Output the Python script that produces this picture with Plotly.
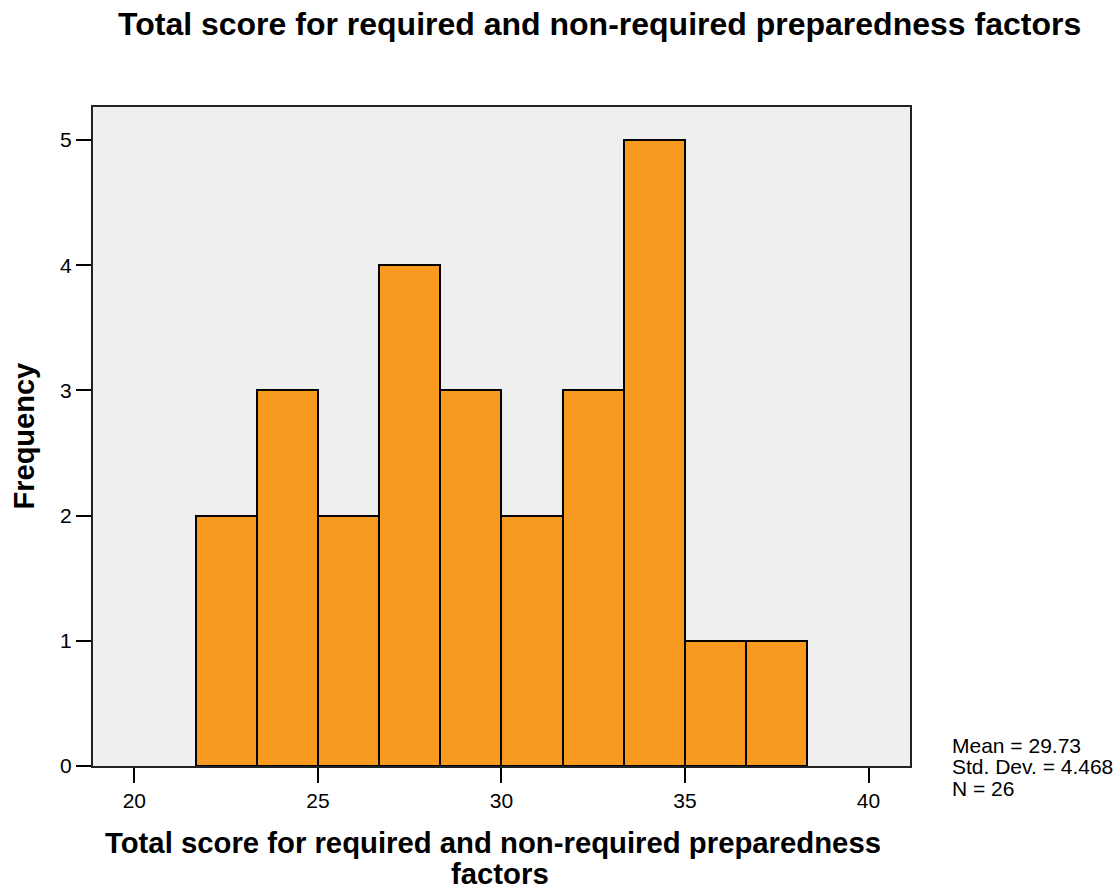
import plotly.graph_objects as go

# Histogram of total preparedness scores (bins of width 5/3)
bin_edges = [21.667, 23.333, 25.0, 26.667, 28.333, 30.0, 31.667, 33.333, 35.0, 36.667, 38.333]
counts = [2, 3, 2, 4, 3, 2, 3, 5, 1, 1]
x_ticks = [20, 25, 30, 35, 40]
y_ticks = [0, 1, 2, 3, 4, 5]
stats_lines = ["Mean = 29.73", "Std. Dev. = 4.468", "N = 26"]

title_text = "Total score for required and non-required preparedness factors"
xtitle_lines = ["Total score for required and non-required preparedness", "factors"]
ytitle_text = "Frequency"

centers = [(a + b) / 2 for a, b in zip(bin_edges[:-1], bin_edges[1:])]
widths = [b - a for a, b in zip(bin_edges[:-1], bin_edges[1:])]

FONT = "Liberation Sans, Arial, sans-serif"

fig = go.Figure()
fig.add_trace(go.Bar(
    x=centers, y=counts, width=widths,
    marker=dict(color="#F89A1F", line=dict(color="black", width=2)),
    hoverinfo="x+y",
))

W, H = 1119, 890
L, R, T, B = 93, 209, 107, 124
plot_w, plot_h = W - L - R, H - T - B


def py(px_y):
    return (H - B - px_y) / plot_h


def px(px_x):
    return (px_x - L) / plot_w


annotations = []
annotations.append(dict(text=f"<b>{title_text}</b>", xref="paper", yref="paper",
                        x=px(599), y=py(24), xanchor="center", yanchor="middle",
                        showarrow=False, font=dict(size=32, color="black", family=FONT)))
for line, xx, yy in zip(xtitle_lines, [493, 500], [842, 873]):
    annotations.append(dict(text=f"<b>{line}</b>", xref="paper", yref="paper",
                            x=px(xx), y=py(yy), xanchor="center", yanchor="middle",
                            showarrow=False, font=dict(size=29.3, color="black", family=FONT)))
annotations.append(dict(text=f"<b>{ytitle_text}</b>", xref="paper", yref="paper",
                        x=px(23), y=0.5, xanchor="center", yanchor="middle", textangle=-90,
                        showarrow=False, font=dict(size=29, color="black", family=FONT)))
for line, yy in zip(stats_lines, [745, 766.5, 788]):
    annotations.append(dict(text=line, xref="paper", yref="paper",
                            x=px(950), y=py(yy), xanchor="left", yanchor="middle",
                            showarrow=False, font=dict(size=21, color="black", family=FONT)))

fig.update_layout(
    width=W, height=H,
    margin=dict(l=L, r=R, t=T, b=B, pad=0),
    paper_bgcolor="white",
    plot_bgcolor="#EFEFEF",
    showlegend=False,
    bargap=0,
    font=dict(family=FONT, size=21, color="black"),
    annotations=annotations,
)
fig.update_xaxes(
    range=[18.874, 41.13], tickvals=x_ticks, ticktext=[str(v) for v in x_ticks],
    ticks="outside", ticklen=15, tickwidth=2, tickcolor="black",
    showline=True, linecolor="#222222", linewidth=2, mirror=True,
    showgrid=False, zeroline=False, tickfont=dict(size=21),
)
fig.update_yaxes(
    range=[0, 5.264], tickvals=y_ticks, ticktext=[str(v) for v in y_ticks],
    ticks="outside", ticklen=15, tickwidth=2, tickcolor="black",
    showline=True, linecolor="#222222", linewidth=2, mirror=True,
    showgrid=False, zeroline=False, tickfont=dict(size=21),
)

fig.write_html("out.html")
